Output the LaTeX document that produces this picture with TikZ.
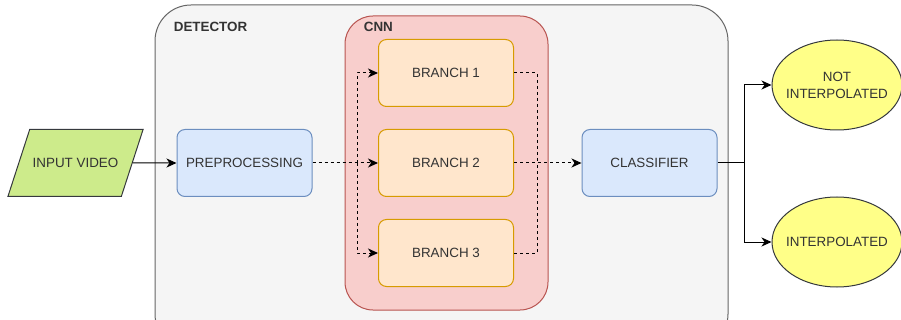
\documentclass[tikz,border=0pt]{standalone}
\usepackage{fontspec}
\setmainfont{Liberation Sans}
\usetikzlibrary{positioning,shapes,fit,arrows.meta}

\definecolor{detf}{HTML}{F5F5F5}
\definecolor{detd}{HTML}{666666}
\definecolor{cnnf}{HTML}{F8CECC}
\definecolor{cnnd}{HTML}{B85450}
\definecolor{brf}{HTML}{FFE6CC}
\definecolor{brd}{HTML}{D79B00}
\definecolor{blf}{HTML}{DAE8FC}
\definecolor{bld}{HTML}{6C8EBF}
\definecolor{inf}{HTML}{CDEB8B}
\definecolor{outf}{HTML}{FFFF88}
\definecolor{dk}{HTML}{36393D}
\definecolor{txt}{HTML}{333333}

\begin{document}
\begin{tikzpicture}[x=1pt,y=-1pt,line width=1pt,
  lbl/.style={font=\fontsize{13.4}{17}\selectfont,text=txt},
  blk/.style={lbl,rounded corners=8pt,minimum width=135pt,minimum height=67pt},
  pblk/.style={blk,draw=bld,fill=blf},
  bblk/.style={blk,draw=brd,fill=brf},
  outc/.style={ellipse,draw=dk,fill=outf,minimum width=130pt,minimum height=90pt,inner sep=0pt},
  arr/.style={-{Stealth[length=10pt,width=9pt,inset=3pt]}},
  dsh/.style={dash pattern=on 3pt off 3pt}]
  \useasboundingbox (0,0) rectangle (901,320);
  \clip (0,0) rectangle (901,320);

  % groups
  \coordinate (d1) at (155,5);
  \coordinate (d2) at (728,350);
  \coordinate (c1) at (345,16);
  \coordinate (c2) at (548,310);
  \node[fit=(d1) (d2),inner sep=0pt,draw=detd,fill=detf,rounded corners=36pt] (det) {};
  \node[fit=(c1) (c2),inner sep=0pt,draw=cnnd,fill=cnnf,rounded corners=28pt] (cnn) {};
  \node[lbl,font=\fontsize{13.4}{17}\selectfont\bfseries,anchor=west] (detl) at (170,27) {DETECTOR};
  \node[lbl,font=\fontsize{13.4}{17}\selectfont\bfseries,anchor=west] (cnnl) at (360,27) {CNN};

  \node[lbl,trapezium,trapezium left angle=72,trapezium right angle=108,
        text height=9.6pt,text depth=0pt,inner xsep=3pt,inner ysep=28.7pt,draw=dk,fill=inf] (in) at (75.5,163) {INPUT VIDEO};
  \node[pblk] (pre) at (244.5,163) {PREPROCESSING};
  \node[bblk] (b1) at (446,73) {BRANCH 1};
  \node[bblk] (b2) at (446,163) {BRANCH 2};
  \node[bblk] (b3) at (446,253) {BRANCH 3};
  \node[pblk] (cls) at (649.5,163) {CLASSIFIER};
  \node[outc] (o1) at (837,85) {};
  \node[outc] (o2) at (837,242) {};
  \node[lbl,align=center] (o1t) at (o1) {NOT\\INTERPOLATED};
  \node[lbl] (o2t) at (o2) {INTERPOLATED};

  \coordinate (sl) at (357,163);
  \coordinate (sr) at (537,163);
  \coordinate (sc) at (744,163);

  \draw[arr] (in) -- (pre);
  \draw[arr,dsh] (pre) -- (b2);
  \draw[arr,dsh] (sl) |- (b1);
  \draw[arr,dsh] (sl) |- (b3);
  \draw[dsh] (b1) -| (sr);
  \draw[dsh] (b3) -| (sr);
  \draw[arr,dsh] (b2) -- (cls);
  \draw (cls) -- (sc);
  \draw[arr] (sc) |- (o1);
  \draw[arr] (sc) |- (o2);
\end{tikzpicture}
\end{document}
